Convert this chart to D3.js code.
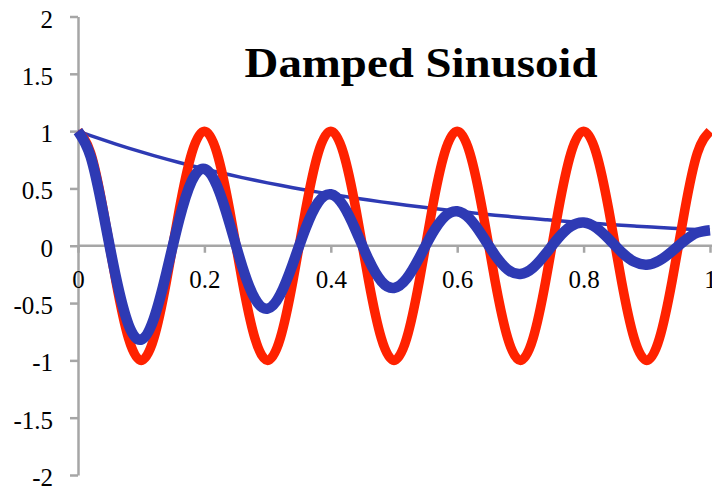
<!DOCTYPE html>
<html>
<head>
<meta charset="utf-8">
<script src="https://cdn.jsdelivr.net/npm/d3@7"></script>
<style>
  html, body { margin: 0; padding: 0; background: #fff; }
  svg { display: block; }
  text { font-family: "Liberation Serif", "Times New Roman", serif; fill: #000; }
</style>
</head>
<body>
<svg id="chart" width="712" height="490"></svg>
<script>
// Time samples (s)
const tValues = [0, 0.02, 0.04, 0.06, 0.08, 0.1, 0.12, 0.14, 0.16, 0.18,
  0.2, 0.22, 0.24, 0.26, 0.28, 0.3, 0.32, 0.34, 0.36, 0.38,
  0.4, 0.42, 0.44, 0.46, 0.48, 0.5, 0.52, 0.54, 0.56, 0.58,
  0.6, 0.62, 0.64, 0.66, 0.68, 0.7, 0.72, 0.74, 0.76, 0.78,
  0.8, 0.82, 0.84, 0.86, 0.88, 0.9, 0.92, 0.94, 0.96, 0.98, 1];

// Undamped carrier
const carrier = [1, 0.809, 0.309, -0.309, -0.809, -1, -0.809, -0.309, 0.309, 0.809,
  1, 0.809, 0.309, -0.309, -0.809, -1, -0.809, -0.309, 0.309, 0.809,
  1, 0.809, 0.309, -0.309, -0.809, -1, -0.809, -0.309, 0.309, 0.809,
  1, 0.809, 0.309, -0.309, -0.809, -1, -0.809, -0.309, 0.309, 0.809,
  1, 0.809, 0.309, -0.309, -0.809, -1, -0.809, -0.309, 0.309, 0.809, 1];

// Decay envelope
const envelope = [1, 0.9608, 0.9231, 0.8869, 0.8521, 0.8187, 0.7866, 0.7558, 0.7261, 0.6977,
  0.6703, 0.6440, 0.6188, 0.5945, 0.5712, 0.5488, 0.5273, 0.5066, 0.4868, 0.4677,
  0.4493, 0.4317, 0.4148, 0.3985, 0.3829, 0.3679, 0.3535, 0.3396, 0.3263, 0.3135,
  0.3012, 0.2894, 0.2780, 0.2671, 0.2567, 0.2466, 0.2369, 0.2276, 0.2187, 0.2101,
  0.2019, 0.1940, 0.1864, 0.1791, 0.1720, 0.1653, 0.1588, 0.1526, 0.1466, 0.1409, 0.1353];

// Damped signal
const damped = [1, 0.7773, 0.2852, -0.2741, -0.6894, -0.8187, -0.6364, -0.2335, 0.2244, 0.5644,
  0.6703, 0.5210, 0.1912, -0.1837, -0.4621, -0.5488, -0.4266, -0.1565, 0.1504, 0.3784,
  0.4493, 0.3492, 0.1282, -0.1231, -0.3098, -0.3679, -0.2860, -0.1049, 0.1008, 0.2536,
  0.3012, 0.2341, 0.0859, -0.0825, -0.2077, -0.2466, -0.1917, -0.0703, 0.0676, 0.1700,
  0.2019, 0.1569, 0.0576, -0.0553, -0.1391, -0.1653, -0.1285, -0.0472, 0.0453, 0.1140, 0.1353];

const xTicks = [0, 0.2, 0.4, 0.6, 0.8, 1];
const xTickLabels = ["0", "0.2", "0.4", "0.6", "0.8", "1"];
const yTicks = [-2, -1.5, -1, -0.5, 0, 0.5, 1, 1.5, 2];
const yTickLabels = ["-2", "-1.5", "-1", "-0.5", "0", "0.5", "1", "1.5", "2"];
const title = "Damped Sinusoid";

const FONT = "Liberation Serif, Times New Roman, serif";
const svg = d3.select("#chart");
const x = d3.scaleLinear().domain([0, 1]).range([78, 710]);
const y = d3.scaleLinear().domain([-2, 2]).range([475, 16.5]);

const axisColor = "#a6a6a6";

// Y axis on the left edge of the plot
const yAxis = svg.append("g").attr("transform", `translate(${x(0)},0)`)
  .call(d3.axisLeft(y).tickValues(yTicks).tickSize(8).tickSizeOuter(0)
    .tickFormat((d, i) => yTickLabels[i]))
  .attr("font-size", 25).attr("font-family", FONT);
yAxis.select(".domain").attr("stroke", axisColor).attr("stroke-width", 2.5);
yAxis.selectAll(".tick line").attr("stroke", axisColor).attr("stroke-width", 2.5);
yAxis.selectAll(".tick text")
  .attr("x", -25).attr("dy", 10.5)
  .style("font-size", "25px")
  .attr("fill", "#000");

// X axis crossing at y = 0
const xAxis = svg.append("g").attr("transform", `translate(0,${y(0)})`)
  .call(d3.axisBottom(x).tickValues(xTicks).tickSize(7).tickSizeOuter(0)
    .tickFormat((d, i) => xTickLabels[i]))
  .attr("font-size", 25).attr("font-family", FONT);
xAxis.select(".domain").attr("stroke", axisColor).attr("stroke-width", 2.5)
  .attr("d", `M${x(0)},0H712`);
xAxis.selectAll(".tick line").attr("stroke", axisColor).attr("stroke-width", 2.5);
xAxis.selectAll(".tick text")
  .attr("y", 42).attr("dy", 0)
  .style("font-size", "25px")
  .attr("fill", "#000");

const pts = arr => tValues.map((t, i) => [t, arr[i]]);
const line = d3.line().x(d => x(d[0])).y(d => y(d[1])).curve(d3.curveNatural);

// Envelope (thin), carrier (red), damped signal (thick blue)
svg.append("path").datum(pts(envelope)).attr("d", line)
  .attr("fill", "none").attr("stroke", "#2e3ab4").attr("stroke-width", 3.5)
  .attr("stroke-linejoin", "round");
svg.append("path").datum(pts(carrier)).attr("d", line)
  .attr("fill", "none").attr("stroke", "#ff2200").attr("stroke-width", 9.5)
  .attr("stroke-linejoin", "round");
svg.append("path").datum(pts(damped)).attr("d", line)
  .attr("fill", "none").attr("stroke", "#2e3ab4").attr("stroke-width", 10.5)
  .attr("stroke-linejoin", "round");

svg.append("text")
  .attr("transform", "translate(421,77) scale(1.09,1)")
  .attr("text-anchor", "middle")
  .attr("font-family", FONT)
  .attr("font-weight", "bold")
  .attr("font-size", 43)
  .text(title);
</script>
</body>
</html>
